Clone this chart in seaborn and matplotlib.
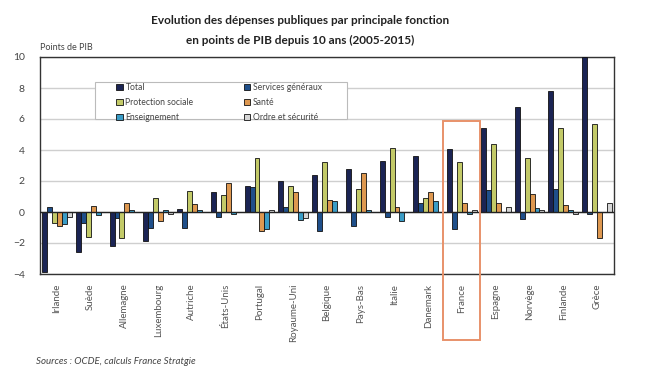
import pandas as pd
import seaborn as sns

import matplotlib
matplotlib.use("Agg")

import matplotlib.pyplot as plt
from matplotlib.patches import Rectangle

# data (points de PIB, 2005-2015)
pays = ["Irlande", "Suède", "Allemagne", "Luxembourg", "Autriche", "États-Unis",
        "Portugal", "Royaume-Uni", "Belgique", "Pays-Bas", "Italie", "Danemark",
        "France", "Espagne", "Norvège", "Finlande", "Grèce"]
fonctions = ["Total", "Services généraux", "Protection sociale", "Santé",
             "Enseignement", "Ordre et sécurité"]

total = [-3.9, -2.6, -2.2, -1.9, 0.2, 1.3, 1.7, 2.0, 2.4, 2.8, 3.3, 3.6, 4.05, 5.45, 6.75, 7.8, 10.0]
services_generaux = [0.35, -0.7, -0.4, -1.0, -1.0, -0.3, 1.6, 0.3, -1.2, -0.9, -0.3, 0.6, -1.1, 1.45, -0.45, 1.5, -0.1]
protection_sociale = [-0.7, -1.6, -1.7, 0.9, 1.35, 1.1, 3.5, 1.7, 3.2, 1.5, 4.1, 0.9, 3.25, 4.4, 3.5, 5.4, 5.65]
sante = [-0.9, 0.4, 0.6, -0.6, 0.5, 1.9, -1.2, 1.3, 0.8, 2.5, 0.3, 1.3, 0.55, 0.6, 1.15, 0.45, -1.65]
enseignement = [-0.8, -0.2, 0.1, 0.1, 0.1, -0.1, -1.1, -0.5, 0.7, 0.1, -0.6, 0.7, -0.1, 0.0, 0.25, 0.1, 0.0]
ordre_securite = [-0.3, 0.0, 0.0, -0.1, 0.0, 0.0, 0.1, -0.4, 0.0, 0.0, 0.0, 0.0, 0.1, 0.3, 0.1, -0.1, 0.55]

couleurs = ["#1b2454", "#1f4f8a", "#c3ca68", "#de9850", "#3a9cc6", "#d6d6d6"]

df = pd.DataFrame({
    "pays": pays * 6,
    "fonction": [f for f in fonctions for _ in pays],
    "valeur": total + services_generaux + protection_sociale + sante + enseignement + ordre_securite,
})

sns.set_style("white")
plt.rcParams["font.family"] = ["Lato", "DejaVu Sans"]

fig = plt.figure(figsize=(6.61, 3.76), dpi=100)
ax = fig.add_axes([40 / 661, 102 / 376, 574 / 661, 217 / 376])

sns.barplot(data=df, x="pays", y="valeur", hue="fonction", hue_order=fonctions,
            palette=couleurs, width=0.88, edgecolor="#111111", linewidth=0.6,
            saturation=1, ax=ax, zorder=3)

ax.set_ylim(-4, 10)
ax.set_xlim(-0.5, len(pays) - 0.5)
ax.set_yticks(range(-4, 11, 2))
ax.yaxis.grid(True, color="#cfcfcf", linewidth=1.0, zorder=0)
ax.axhline(0, color="#222222", linewidth=1.0, zorder=4)
ax.set_xlabel("")
ax.set_ylabel("")
for s in ax.spines.values():
    s.set_color("#333333")
    s.set_linewidth(1.0)
ax.tick_params(axis="y", labelsize=7.5, colors="#444444", length=0, pad=11)
ax.tick_params(axis="x", labelsize=7, colors="#555555", length=0, pad=7)
plt.setp(ax.get_xticklabels(), rotation=90)

# legend frame drawn separately so the entries can sit indented like the original
ax.add_patch(Rectangle((55 / 574, 1 - 62 / 217), 252 / 574, 37 / 217,
                       transform=ax.transAxes, facecolor="white", edgecolor="#bbbbbb",
                       linewidth=0.8, zorder=4.5))

# two columns, same order as the original
h, l = ax.get_legend_handles_labels()
ordre = [0, 2, 4, 1, 3, 5]
leg = ax.legend([h[i] for i in ordre], [l[i] for i in ordre], ncol=2,
                loc="upper left", bbox_to_anchor=(76 / 574, 1 - 26 / 217),
                fontsize=6.2, frameon=False, borderaxespad=0, borderpad=0,
                handlelength=0.8, handleheight=0.8, handletextpad=0.3,
                labelspacing=0.7, columnspacing=5.8)
for t in leg.get_texts():
    t.set_color("#444444")

# orange box around France
i_fr = pays.index("France")
ax.add_patch(Rectangle((i_fr - 0.55, -8.25), 1.07, 14.15, fill=False,
                       edgecolor="#e8926a", linewidth=1.4, clip_on=False, zorder=5))

fig.text(300 / 661, 1 - 20 / 376, "Evolution des dépenses publiques par principale fonction",
         ha="center", va="center", fontsize=8.5, fontweight="bold", color="#222222")
fig.text(300 / 661, 1 - 40 / 376, "en points de PIB depuis 10 ans (2005-2015)",
         ha="center", va="center", fontsize=8.5, fontweight="bold", color="#222222")
fig.text(40 / 661, 1 - 47 / 376, "Points de PIB", ha="left", va="center",
         fontsize=6.5, color="#444444")
fig.text(36 / 661, 1 - 362 / 376, "Sources : OCDE, calculs France Stratgie", ha="left",
         va="center", fontsize=7, style="italic", color="#444444")

plt.savefig("out.png", dpi=100)
